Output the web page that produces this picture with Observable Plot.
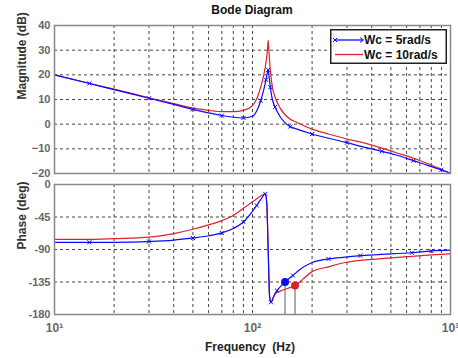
<!DOCTYPE html>
<html><head><meta charset="utf-8">
<script src="https://cdn.jsdelivr.net/npm/d3@7"></script>
<script src="https://cdn.jsdelivr.net/npm/@observablehq/plot@0.6"></script>
<style>
body{margin:0;background:#fff;font-family:"Liberation Sans",Arial,sans-serif;}
#wrap{position:relative;width:458px;height:358px;overflow:hidden;background:#fff;}
#topPlot,#botPlot{display:block;line-height:0;}
#title{position:absolute;top:3px;left:152px;width:200px;text-align:center;font-size:12px;font-weight:bold;line-height:14px;color:#111;}
#xlabel{position:absolute;top:340px;left:150px;width:200px;text-align:center;font-size:12px;font-weight:bold;line-height:14px;color:#222;white-space:pre;}
#legend{position:absolute;left:330px;top:29px;}
</style></head><body>
<div id="wrap">
<div id="topPlot"></div><div id="botPlot"></div>
<div id="title">Bode Diagram</div>
<div id="xlabel">Frequency  (Hz)</div>
<svg id="legend" width="117" height="35"></svg>
</div>
<script>
// ---- data ----
const seriesNames = ["Wc = 5rad/s", "Wc = 10rad/s"];
const magFreq = [10,15,20,30,40,50,60,70,80,90,100,106,110,114,117,119,120,121,123,126,130,138,155,165,200,242,300,357,450,527,650,778,900,1000];
const magBlue = [20,16.5,14,10.5,8,6,4.6,3.5,2.8,2.5,3.2,6,9.5,14,18,21,22,20,15,10,7,3,-1,-1.8,-4,-5.7,-7.5,-9.1,-11,-12.4,-14.8,-16.9,-18.5,-20];
const magRed  = [20,16.6,14.2,10.7,8.3,6.5,5.6,5.1,5.1,5.6,7.5,11,15,20,25,30,34,30,22,15,11,6.5,2,1,-2,-4,-6,-7.4,-9.7,-11.5,-13.8,-16.2,-18.3,-20];
const phaseFreqBlue = [10,15,20,30,40,50,60,70,80,90,100,105,110,116,118,120,122,124,128,133,140,146,160,171,200,242,294,350,432,638,800,1000];
const phaseBlue = [-80,-80,-80,-79,-77,-74,-71,-67,-61,-52,-37,-29,-21,-13,-25,-90,-155,-163,-155,-147,-140,-135,-126,-119,-108,-103,-100.5,-98.5,-97,-94.5,-92,-91];
const phaseFreqRed = [10,15,20,30,40,50,60,70,80,90,100,110,116,118,120,122,124,130,140,150,164,180,199,242,294,350,432,638,800,1000];
const phaseRed = [-76,-76,-75,-73,-68,-62,-56,-50,-43,-33,-24,-16,-13,-25,-90,-155,-163,-151,-147,-144,-140,-131,-121,-114,-108,-105,-103,-99.5,-97.5,-96];
const blueMagMarkers = [15,30,50,70,90,110,117,120,123,130,155,200,300,450,650,900];
const bluePhaseMarkers = [15,30,50,70,90,105,116,124,133,160,242,350,638,800];
const marginPoints = [{f:146, p:-135, s:0}, {f:164, p:-140, s:1}];
const magTicks = [-20,-10,0,10,20,30,40];
const phaseTicks = [0,-45,-90,-135,-180];
const xTickVals = [10,100,1000];
const xTickLabels = ["10\u00b9","10\u00b2","10\u00b3"];

// ---- build ----
const colors = ["#0a0aff", "#e0202a"];
const mB = magFreq.map((f,i)=>({f, v:magBlue[i]}));
const mR = magFreq.map((f,i)=>({f, v:magRed[i]}));
const pB = phaseFreqBlue.map((f,i)=>({f, v:phaseBlue[i]}));
const pR = phaseFreqRed.map((f,i)=>({f, v:phaseRed[i]}));
const gridStyle = {stroke:"#333", strokeOpacity:0.9, strokeDasharray:"3,3", strokeWidth:1};
const font = {fontFamily:"'Liberation Sans', Arial, sans-serif", fontWeight:"bold", fontSize:"11px", background:"#fff", overflow:"visible"};

const topChart = Plot.plot({
  width:458, height:176, marginTop:25, marginLeft:54, marginRight:8, marginBottom:3,
  style:font,
  x:{type:"log", domain:[10,1000], axis:null},
  y:{domain:[-20,40], axis:null},
  marks:[
    Plot.gridX({...gridStyle}),
    Plot.gridY(magTicks, {...gridStyle}),
    Plot.axisY(magTicks, {tickSize:0, tickPadding:4, color:"#666", fontSize:11, label:null}),
    Plot.text(["Magnitude (dB)"], {frameAnchor:"left", dx:-32, rotate:-90, text:d=>d, fontWeight:"bold", fontSize:12, fill:"#333"}),
    Plot.line(mR, {x:"f", y:"v", stroke:colors[1], strokeWidth:1.2, curve:"monotone-x"}),
    Plot.line(mB, {x:"f", y:"v", stroke:colors[0], strokeWidth:1.2, curve:"monotone-x"}),
    Plot.dot(mB.filter(d=>blueMagMarkers.includes(d.f)), {x:"f", y:"v", symbol:"times", r:2, stroke:colors[0], strokeWidth:1}),
    Plot.frame({stroke:"#888", strokeWidth:1.5})
  ]
});
document.getElementById("topPlot").appendChild(topChart);

const botChart = Plot.plot({
  width:458, height:182, marginTop:8, marginLeft:54, marginRight:8, marginBottom:44,
  style:font,
  x:{type:"log", domain:[10,1000], axis:null},
  y:{domain:[-180,0], axis:null},
  marks:[
    Plot.gridX({...gridStyle}),
    Plot.gridY(phaseTicks, {...gridStyle}),
    Plot.axisY(phaseTicks, {tickSize:0, tickPadding:4, color:"#666", fontSize:11, label:null, tickFormat:d=>String(d)}),
    Plot.axisX(xTickVals, {tickSize:0, tickPadding:9, color:"#666", fontSize:12, label:null, tickFormat:d=>xTickLabels[xTickVals.indexOf(d)]}),
    Plot.text(["Phase (deg)"], {frameAnchor:"left", dx:-32, rotate:-90, text:d=>d, fontWeight:"bold", fontSize:12, fill:"#333"}),
    Plot.ruleX(marginPoints, {x:"f", y1:-180, y2:"p", stroke:"#777", strokeWidth:1.2}),
    Plot.line(pR, {x:"f", y:"v", stroke:colors[1], strokeWidth:1.2, curve:"monotone-x"}),
    Plot.line(pB, {x:"f", y:"v", stroke:colors[0], strokeWidth:1.2, curve:"monotone-x"}),
    Plot.dot(pB.filter(d=>bluePhaseMarkers.includes(d.f)), {x:"f", y:"v", symbol:"times", r:2, stroke:colors[0], strokeWidth:1}),
    Plot.dot(marginPoints, {x:"f", y:"p", r:4, fill:d=>colors[d.s], stroke:"none"}),
    Plot.frame({stroke:"#888", strokeWidth:1.5})
  ]
});
document.getElementById("botPlot").appendChild(botChart);

// legend
const lg = d3.select("#legend");
lg.append("rect").attr("x",0.75).attr("y",0.75).attr("width",115.5).attr("height",33.5).attr("fill","#fff").attr("stroke","#222").attr("stroke-width",1.5);
seriesNames.forEach((name,i)=>{
  const y = 11 + i*14.5;
  lg.append("line").attr("x1",5).attr("x2",33).attr("y1",y).attr("y2",y).attr("stroke",colors[i]).attr("stroke-width",1.3);
  if(i===0){
    lg.append("path").attr("d",`M${5-2},${y-2}L${5+2},${y+2}M${5-2},${y+2}L${5+2},${y-2}`).attr("stroke",colors[i]).attr("stroke-width",1);
    lg.append("path").attr("d",`M${30},${y-2.5}L${33.5},${y}L${30},${y+2.5}`).attr("stroke",colors[i]).attr("fill","none").attr("stroke-width",1);
  }
  lg.append("text").attr("x",34).attr("y",y+4).attr("font-size",12).attr("font-weight","bold").attr("font-family","'Liberation Sans', Arial, sans-serif").attr("fill","#111").text(name);
});
</script>
</body></html>
